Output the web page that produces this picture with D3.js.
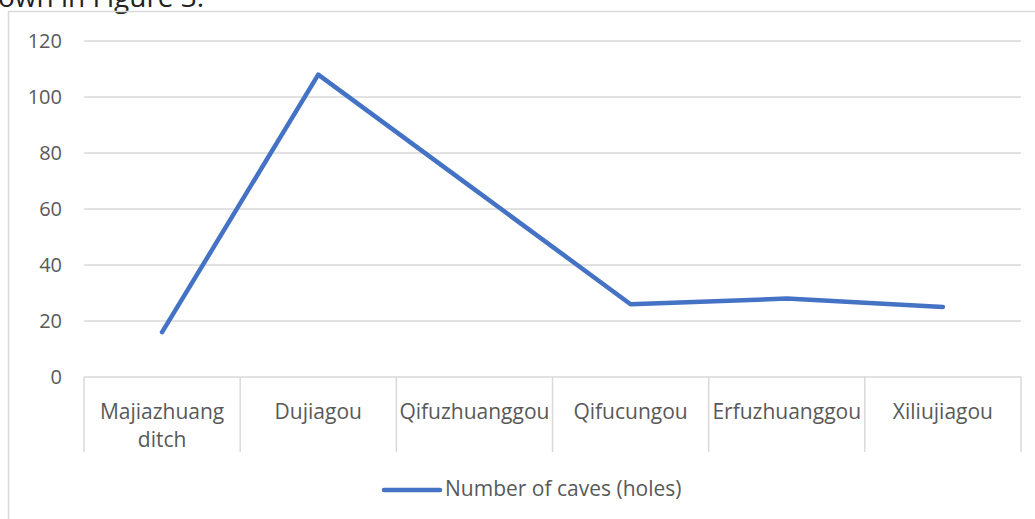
<!DOCTYPE html>
<html>
<head>
<meta charset="utf-8">
<script src="https://cdn.jsdelivr.net/npm/d3@7"></script>
<style>
  body { margin: 0; background: #fff; }
  svg { display: block; font-family: "Open Sans", "Noto Sans", sans-serif; }
</style>
</head>
<body>
<div id="chart"></div>
<script>
var categories = [["Majiazhuang", "ditch"], ["Dujiagou"], ["Qifuzhuanggou"], ["Qifucungou"], ["Erfuzhuanggou"], ["Xiliujiagou"]];
var caves = [16, 108, 67, 26, 28, 25];
var yTicks = [0, 20, 40, 60, 80, 100, 120];
var seriesName = "Number of caves (holes)";

var W = 1035, H = 519;
var margin = {top: 41, left: 84, right: 14},
    width = W - margin.left - margin.right,
    height = 377 - margin.top;

var svg = d3.select("#chart")
  .append("svg")
    .attr("width", W)
    .attr("height", H);

// bit of the page text above the chart, cut off
svg.append("text")
  .attr("x", -2)
  .attr("y", 7)
  .style("font-size", "28px")
  .style("fill", "#222")
  .text("own in Figure 3.");

// chart border
svg.append("rect")
  .attr("x", 8.5)
  .attr("y", 11.5)
  .attr("width", W + 20)
  .attr("height", H + 20)
  .attr("fill", "none")
  .attr("stroke", "#d9d9d9")
  .attr("stroke-width", 1.5);

var g = svg.append("g")
  .attr("transform", "translate(" + margin.left + "," + margin.top + ")");

var x = d3.scaleBand()
  .domain(d3.range(categories.length))
  .range([0, width]);

var y = d3.scaleLinear()
  .domain([0, 120])
  .range([height, 0]);

// gridlines
g.selectAll(".grid")
  .data(yTicks)
  .enter()
  .append("line")
    .attr("x1", 0)
    .attr("x2", width)
    .attr("y1", function(d) { return y(d); })
    .attr("y2", function(d) { return y(d); })
    .style("stroke", "#d9d9d9")
    .style("stroke-width", 1.5);

// y labels
g.selectAll(".ylab")
  .data(yTicks)
  .enter()
  .append("text")
    .attr("x", -22)
    .attr("y", function(d) { return y(d); })
    .attr("dy", "0.35em")
    .attr("text-anchor", "end")
    .style("font-size", "20px")
    .style("fill", "#595959")
    .text(function(d) { return d; });

// category separators
var seps = d3.range(categories.length + 1);
g.selectAll(".sep")
  .data(seps)
  .enter()
  .append("line")
    .attr("x1", function(d) { return d * x.step(); })
    .attr("x2", function(d) { return d * x.step(); })
    .attr("y1", height)
    .attr("y2", height + 75)
    .style("stroke", "#d9d9d9")
    .style("stroke-width", 1.5);

// category labels
var cl = g.selectAll(".clab")
  .data(categories)
  .enter()
  .append("text")
    .attr("text-anchor", "middle")
    .attr("y", height + 42)
    .style("font-size", "21px")
    .style("fill", "#595959");
cl.selectAll("tspan")
  .data(function(d, i) { return d.map(function(s) { return {s: s, i: i}; }); })
  .enter()
  .append("tspan")
    .attr("x", function(d) { return x(d.i) + x.bandwidth() / 2; })
    .attr("dy", function(d, j) { return j === 0 ? 0 : 28; })
    .text(function(d) { return d.s; });

// line
var line = d3.line()
  .x(function(d, i) { return x(i) + x.bandwidth() / 2; })
  .y(function(d) { return y(d); });

g.append("path")
  .datum(caves)
  .attr("d", line)
  .attr("fill", "none")
  .attr("stroke", "#4472c4")
  .attr("stroke-width", 4.5)
  .attr("stroke-linejoin", "round")
  .attr("stroke-linecap", "round");

// legend
var lg = svg.append("g").attr("transform", "translate(384,490)");
lg.append("line")
  .attr("x1", 0).attr("x2", 56)
  .attr("y1", 0).attr("y2", 0)
  .attr("stroke", "#4472c4")
  .attr("stroke-width", 4.5)
  .attr("stroke-linecap", "round");
lg.append("text")
  .attr("x", 61)
  .attr("y", 6)
  .style("font-size", "21px")
  .style("fill", "#595959")
  .text(seriesName);
</script>
</body>
</html>
